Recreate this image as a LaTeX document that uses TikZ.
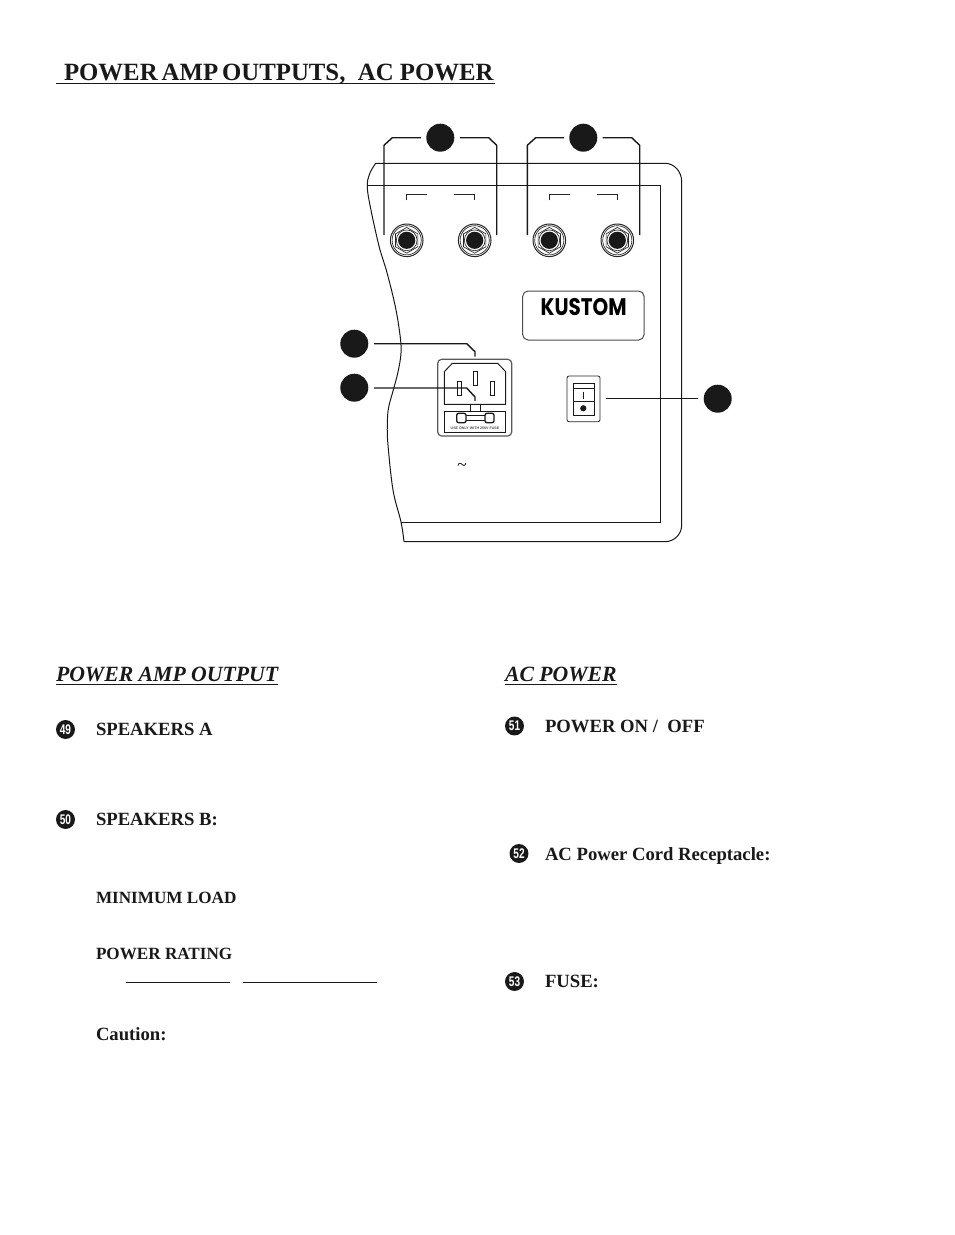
\documentclass[tikz,border=0pt]{standalone}
\usepackage{graphicx}
\usepackage{fontspec}
\setmainfont{Liberation Serif}
\newfontfamily\numfont{Liberation Sans}
\newfontfamily\logofont{Poppins}
\usetikzlibrary{shapes.geometric}
\tikzset{
  x=0.75pt,y=-0.75pt,
  txt/.style={anchor=base west,inner sep=0pt,outer sep=0pt,text=black!90},
  titletxt/.style={txt,font=\fontsize{18.6}{19}\selectfont\bfseries},
  headtxt/.style={txt,font=\fontsize{16.3}{17}\selectfont\bfseries\itshape},
  bodytxt/.style={txt,font=\fontsize{14}{14}\selectfont\bfseries},
  smalltxt/.style={txt,font=\fontsize{12.85}{13}\selectfont\bfseries},
  callout/.style={circle,fill=black!90,draw=none,minimum size=21pt,inner sep=0pt,outer sep=0pt},
  bullet/.style={circle,fill=black!90,draw=none,minimum size=14.2pt,inner sep=0pt,text=white,font=\numfont\fontsize{10.5}{11}\selectfont\bfseries},
  leader/.style={draw=black!90,line width=1.05pt,line join=miter},
  panel/.style={draw=black!90,line width=0.75pt},
  thin line/.style={draw=black!85,line width=0.6pt},
  rulebar/.style={draw=black!90,line width=0.8pt},
  jack/.pic={
    \draw[black!85,line width=0.75pt] (0,0) circle[radius=16.3];
    \draw[black!85,line width=0.5pt] (0,0) circle[radius=14.6];
    \draw[black!85,line width=0.5pt] (30:12.9) -- (90:12.9) -- (150:12.9) -- (210:12.9) -- (270:12.9) -- (330:12.9) -- cycle;
    \draw[black!85,line width=0.5pt] (0,0) circle[radius=10.4];
    \fill[black!90] (0,0) circle[radius=8.6];
  }
}
\newcommand{\bnum}[1]{\scalebox{0.72}[1]{#1}}
\begin{document}
\begin{tikzpicture}
\useasboundingbox (0,0) rectangle (954,1235);
\fill[white] (0,0) rectangle (954,1235);

% title and headings
\node[titletxt] (title) at (64,80.5) {POWER\hspace{3pt}AMP\hspace{3pt}OUTPUTS,\ \ AC POWER};
\coordinate (titleL) at (56,83.5); \coordinate (titleR) at (495,83.5);
\draw[rulebar] (titleL) -- (titleR);
\node[headtxt] (h1) at (56,681) {POWER AMP OUTPUT};
\coordinate (h1L) at (56,684.5); \coordinate (h1R) at (278,684.5);
\draw[rulebar] (h1L) -- (h1R);
\node[headtxt] (h2) at (505,681) {AC POWER};
\coordinate (h2L) at (505,684.5); \coordinate (h2R) at (617,684.5);
\draw[rulebar] (h2L) -- (h2R);

% panel
\draw[panel] plot[smooth,tension=0.6] coordinates {(375.7,163.3) (369.5,174) (367.3,188) (372,215) (380,250) (386,269) (395,305) (400,335) (401,353) (398,372) (393.3,390) (388.5,408) (387.3,425) (388,445) (393,490) (401,522) (404,541.7)};
\draw[panel] (375.7,163.3) -- (665,163.3) arc[start angle=90,end angle=0,x radius=16.7,y radius=-18.4] -- (681.7,525) arc[start angle=0,end angle=-90,x radius=16.7,y radius=-16.7] -- (404,541.7);
\draw[panel] (367.3,185) -- (660,185) -- (660,522) -- (401,522);

% jacks
\pic at (406.7,240.3) {jack};
\pic at (474.7,240.3) {jack};
\pic at (549.3,240.3) {jack};
\pic at (617.3,240.3) {jack};
\coordinate (ja1) at (384,235); \coordinate (ja2) at (496.7,235);
\coordinate (jb1) at (527.3,235); \coordinate (jb2) at (639.7,235);

% small brackets
\draw[thin line] (406.3,200.3) -- (406.3,194.7) -- (426.7,194.7);
\draw[thin line] (454.3,194.7) -- (474.3,194.7) -- (474.3,200.3);
\draw[thin line] (549.3,200.3) -- (549.3,194.7) -- (569.7,194.7);
\draw[thin line] (597.3,194.7) -- (617.3,194.7) -- (617.3,200.3);

% callouts
\node[callout] (cA) at (440.3,137.7) {};
\node[callout] (cB) at (583.3,137.7) {};
\node[callout] (cR) at (354.3,343.7) {};
\node[callout] (cF) at (354.3,387.7) {};
\node[callout] (cS) at (717.7,398.7) {};

% leaders of the speaker jacks
\coordinate (cAl) at (421,137.7); \coordinate (cAr) at (460,137.7);
\coordinate (cBl) at (564,137.7); \coordinate (cBr) at (602.7,137.7);
\draw[leader] (cAl) -- (392.3,137.7) -- (384,145.3) -- (ja1);
\draw[leader] (cAr) -- (488.7,137.7) -- (496.7,145.3) -- (ja2);
\draw[leader] (cBl) -- (535.7,137.7) -- (527.3,145.3) -- (jb1);
\draw[leader] (cBr) -- (631.7,137.7) -- (639.7,145.3) -- (jb2);

% logo plate
\draw[draw=black!70,line width=0.75pt,rounded corners=4pt] (522.7,291) rectangle (644,340);
\node[anchor=south west,inner sep=0pt,outer sep=0pt] (logo) at (540.7,315.5) {\resizebox{64.5pt}{12.8pt}{\logofont\bfseries KUSTOM}};

% switch
\draw[draw=black!85,line width=0.6pt,rounded corners=1.5pt] (567,376) rectangle (600,421.7);
\draw[draw=black!90,line width=0.7pt] (573.3,383.3) rectangle (594,415);
\draw[draw=black!90,line width=0.7pt] (573.3,388.3) -- (594,388.3);
\draw[draw=black!90,line width=0.7pt] (573.3,401.7) -- (594,401.7);
\draw[draw=black!90,line width=0.5pt] (583.3,391.7) -- (583.3,399.3);
\fill[black!90] (583.3,408.3) circle[radius=3.1];
\coordinate (swE) at (606,398.5); \coordinate (cSw) at (698.3,398.5);
\draw[leader] (swE) -- (cSw);

% receptacle
\draw[draw=black!65,line width=0.9pt,rounded corners=3pt] (437.7,359.3) rectangle (511.7,436);
\draw[draw=black!90,line width=0.7pt] (452.3,363.3) -- (497.7,363.3) -- (505.7,371.7) -- (505.7,404.3) -- (444.3,404.3) -- (444.3,371.7) -- cycle;
\draw[draw=black!90,line width=0.55pt] (473.3,371.7) rectangle (477.3,385.7);
\draw[draw=black!90,line width=0.55pt] (457.3,381.7) rectangle (461,395.7);
\draw[draw=black!90,line width=0.55pt] (490.3,381.7) rectangle (494.3,395.7);
\draw[draw=black!90,line width=0.7pt] (444.3,411) rectangle (505.7,432.7);
\draw[draw=black!90,line width=0.7pt] (470,404.3) -- (470,411);
\draw[draw=black!90,line width=0.7pt] (480,404.3) -- (480,411);
\draw[draw=black!90,line width=1pt,rounded corners=1.5pt] (456.7,413.3) rectangle (466,422.7);
\draw[draw=black!90,line width=1pt,rounded corners=1.5pt] (485,413.3) rectangle (494,422.7);
\draw[draw=black!90,line width=0.6pt] (466,415.5) -- (485,415.5);
\draw[draw=black!90,line width=0.6pt] (466,420.5) -- (485,420.5);
\node[inner sep=0pt,outer sep=0pt,text=black!70] (fuse) at (475,428.2) {\resizebox{36.5pt}{!}{\numfont\bfseries USE ONLY WITH 250V FUSE}};
\node[inner sep=0pt,outer sep=0pt,font=\fontsize{13}{13}\selectfont] (tilde) at (462,467) {\textasciitilde};

% receptacle leaders
\coordinate (cRe) at (374,343.7); \coordinate (rcT) at (475,356.7);
\coordinate (cFe) at (374,388); \coordinate (fuT) at (475,401);
\draw[leader] (cRe) -- (466.7,343.7) -- (475,351.7) -- (rcT);
\draw[leader] (cFe) -- (466.7,388) -- (475,397) -- (fuT);

% left column
\node[bullet] (b49) at (65.5,729.5) {\bnum{49}};
\node[bodytxt] (t49) at (96,735) {SPEAKERS A};
\node[bullet] (b50) at (65.5,819.5) {\bnum{50}};
\node[bodytxt] (t50) at (96,825) {SPEAKERS B:};
\node[smalltxt] (tmin) at (96,903) {MINIMUM LOAD};
\node[smalltxt] (tpow) at (96,959.5) {POWER RATING};
\coordinate (r1L) at (126,982.5); \coordinate (r1R) at (230,982.5);
\coordinate (r2L) at (243,982.5); \coordinate (r2R) at (377,982.5);
\draw[rulebar] (r1L) -- (r1R);
\draw[rulebar] (r2L) -- (r2R);
\node[bodytxt] (tcau) at (96,1040) {Caution:};

% right column
\node[bullet] (b51) at (514.5,726) {\bnum{51}};
\node[bodytxt] (t51) at (545,732) {POWER ON /\ \ OFF};
\node[bullet] (b52) at (519,853.5) {\bnum{52}};
\node[bodytxt] (t52) at (545,860) {AC Power Cord Receptacle:};
\node[bullet] (b53) at (514.5,981.5) {\bnum{53}};
\node[bodytxt] (t53) at (545,987) {FUSE:};
\end{tikzpicture}
\end{document}
